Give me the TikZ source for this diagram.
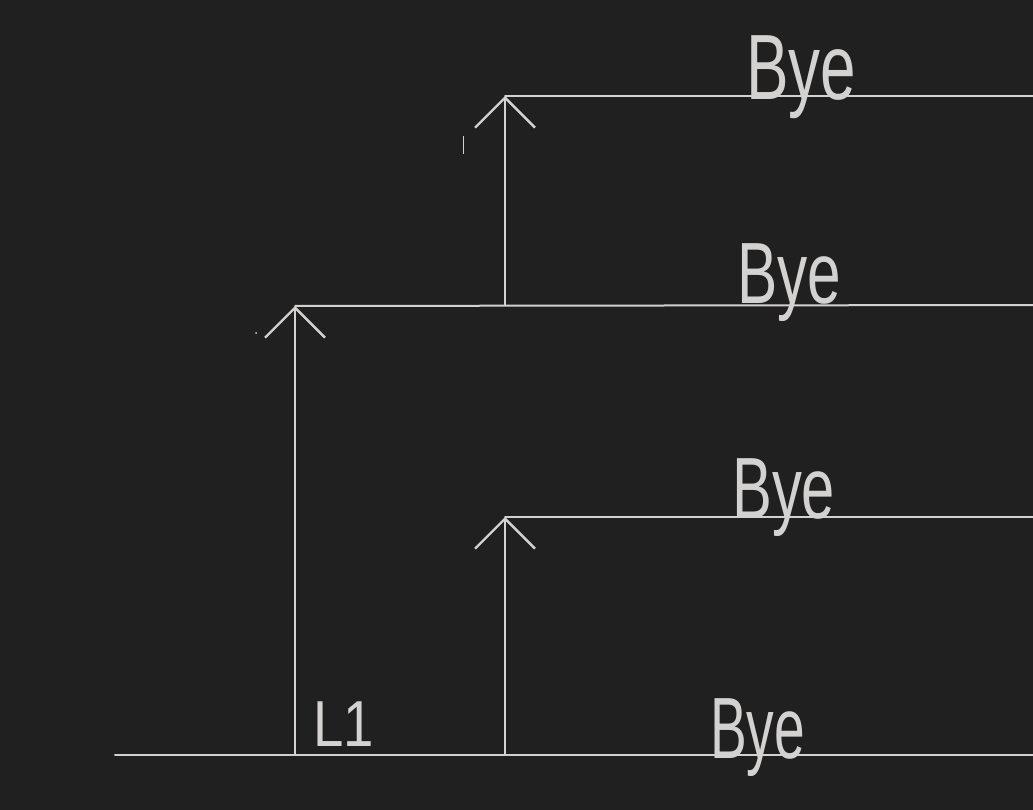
\documentclass[tikz,border=0pt]{standalone}
\usepackage{fontspec}
\setmainfont{Liberation Sans}
\usetikzlibrary{arrows.meta}
\definecolor{bg}{HTML}{212020}
\definecolor{ink}{HTML}{D4D2D0}
\tikzset{
  wire/.style={draw=ink, line width=2pt, line cap=round},
  uparrow/.style={wire, -{Straight Barb[length=30pt,width=60pt,line width=2.4pt]}},
  hand/.style={text=ink, inner sep=0pt, anchor=base west, font=\fontsize{58}{58}\selectfont},
  handsmall/.style={text=ink, inner sep=0pt, anchor=base west, font=\fontsize{52}{52}\selectfont},
}
\begin{document}
\begin{tikzpicture}[x=1pt,y=-1pt]
\fill[bg] (0,0) rectangle (1033,810);
\useasboundingbox (0,0) rectangle (1033,810);
% coordinates
\coordinate (base0) at (115,755);
\coordinate (baseE) at (1033,755);
\coordinate (a1b) at (295,755);
\coordinate (a1t) at (295,306);
\coordinate (h2e) at (1033,305);
\coordinate (a2b) at (505,305);
\coordinate (a2t) at (505,96);
\coordinate (h3e) at (1033,96);
\coordinate (a3b) at (505,755);
\coordinate (a3t) at (505,517);
\coordinate (h4e) at (1033,517);
% lines
\draw[wire] (base0) -- (baseE);
\draw[uparrow] (a1b) -- (a1t);
\draw[wire] (a1t) -- (h2e);
\draw[uparrow] (a2b) -- (a2t);
\draw[wire] (a2t) -- (h3e);
\draw[uparrow] (a3b) -- (a3t);
\draw[wire] (a3t) -- (h4e);
% stray marks
\coordinate (tk1) at (463,136);
\coordinate (tk2) at (463,154);
\draw[draw=ink, line width=1pt] (tk1) -- (tk2);
\fill[ink] (256,333) circle (1pt);
% labels
\node[hand] (bye1) at (746,100) {\scalebox{1.1}[1.6]{Bye}};
\node[hand] (bye2) at (737,303) {\scalebox{1.04}[1.5]{Bye}};
\node[hand] (bye3) at (732,518) {\scalebox{1.03}[1.5]{Bye}};
\node[hand] (bye4) at (710,758) {\scalebox{0.95}[1.5]{Bye}};
\node[handsmall] (l1) at (313,746) {\scalebox{1.05}[1.25]{L1}};
\end{tikzpicture}
\end{document}
